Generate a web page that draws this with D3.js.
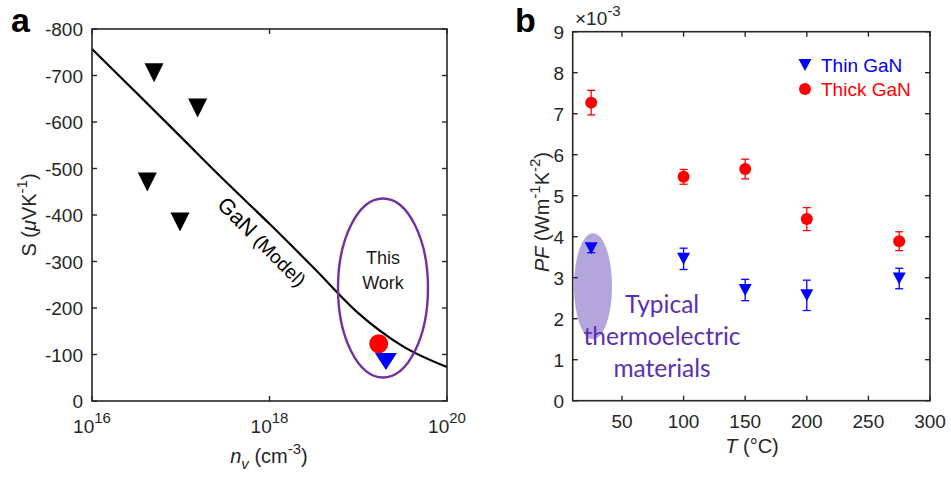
<!DOCTYPE html>
<html>
<head>
<meta charset="utf-8">
<script src="https://cdn.jsdelivr.net/npm/d3@7"></script>
<style>
  body { margin: 0; background: #fff; }
  text { font-family: "Liberation Sans", Arial, sans-serif; fill: #262626; }
</style>
</head>
<body>
<div id="chart"></div>
<script>
// panel a: Seebeck vs carrier density
var modelN = [1e16, 3.16e16, 1e17, 3.16e17, 1e18, 3.16e18, 1e19, 3.16e19, 1e20];
var modelS = [-757, -663, -568, -473, -381, -286, -189, -118, -73];
var litN = [5.0e16, 1.55e17, 4.2e16, 9.8e16];
var litS = [-706, -630, -471, -385];
var thickN = [1.7e19], thickS = [-123];
var thinN = [2.05e19], thinS = [-85];
var aXTicks = [1e16, 1e18, 1e20];
var aXExp = ["16", "18", "20"];
var aYTicks = [-800, -700, -600, -500, -400, -300, -200, -100, 0];

// panel b: power factor vs temperature (x10^-3)
var tempC = [25, 100, 150, 200, 275];
var thinPF = [3.72, 3.46, 2.70, 2.57, 2.98];
var thinErr = [0.11, 0.26, 0.26, 0.37, 0.25];
var thickPF = [7.27, 5.46, 5.65, 4.43, 3.89];
var thickErr = [0.30, 0.18, 0.24, 0.28, 0.23];
var bXTicks = [50, 100, 150, 200, 250, 300];
var bYTicks = [0, 1, 2, 3, 4, 5, 6, 7, 8, 9];

var svg = d3.select("#chart").append("svg")
  .attr("width", 951).attr("height", 480);

var axisColor = "#262626";
var tickFont = "19px", labFont = "20px", supFont = "15px";

function tri(w, h) {
  // downward triangle centred on 0,0
  return "M" + (-w/2) + "," + (-h/2) + "L" + (w/2) + "," + (-h/2) + "L0," + (h/2) + "Z";
}

function box(x0, x1, y0, y1) {
  svg.append("rect")
    .attr("x", x0).attr("y", y0)
    .attr("width", x1 - x0).attr("height", y1 - y0)
    .attr("fill", "none").attr("stroke", axisColor).attr("stroke-width", 1.6);
}

// ---------- panel a ----------
var xa = d3.scaleLog().domain([1e16, 1e20]).range([92, 447]);
var ya = d3.scaleLinear().domain([-800, 0]).range([29, 401]);

var line = d3.line()
  .x(function(d, i) { return xa(modelN[i]); })
  .y(function(d) { return ya(d); })
  .curve(d3.curveMonotoneX);

svg.append("path")
  .attr("d", line(modelS))
  .attr("fill", "none").attr("stroke", "#000").attr("stroke-width", 2.2);

svg.selectAll(".lit").data(litS).enter().append("path")
  .attr("transform", function(d, i) { return "translate(" + xa(litN[i]) + "," + ya(d) + ")"; })
  .attr("d", tri(19, 19))
  .attr("fill", "#000");

// this work ellipse
svg.append("ellipse")
  .attr("cx", xa(1.9e19)).attr("cy", ya(-243))
  .attr("rx", 45).attr("ry", 89.5)
  .attr("fill", "none").attr("stroke", "#7030a0").attr("stroke-width", 2.4);

svg.append("circle")
  .attr("cx", xa(thickN[0])).attr("cy", ya(thickS[0]))
  .attr("r", 9.5).attr("fill", "#ff0000");
svg.append("path")
  .attr("transform", "translate(" + xa(thinN[0]) + "," + ya(thinS[0]) + ")")
  .attr("d", tri(22, 17))
  .attr("fill", "#0000ff");

svg.append("text").attr("x", 383).attr("y", 264).attr("text-anchor", "middle")
  .style("font-size", "18px").style("fill", "#1a1a1a").text("This");
svg.append("text").attr("x", 383).attr("y", 289).attr("text-anchor", "middle")
  .style("font-size", "18px").style("fill", "#1a1a1a").text("Work");

var gm = svg.append("text")
  .attr("transform", "translate(257,247) rotate(45)")
  .attr("text-anchor", "middle")
  .style("font-size", "22px").style("fill", "#000");
gm.append("tspan").text("GaN ");
gm.append("tspan").style("font-size", "19px").text("(Model)");

box(92, 447, 29, 401);

// ticks a
aYTicks.forEach(function(t) {
  var y = ya(t);
  svg.append("line").attr("x1", 92).attr("x2", 97).attr("y1", y).attr("y2", y).attr("stroke", axisColor).attr("stroke-width", 1.4);
  svg.append("line").attr("x1", 447).attr("x2", 442).attr("y1", y).attr("y2", y).attr("stroke", axisColor).attr("stroke-width", 1.4);
  svg.append("text").attr("x", 83).attr("y", y + 7).attr("text-anchor", "end")
    .style("font-size", tickFont).text(t);
});
aXTicks.forEach(function(t, i) {
  var x = xa(t);
  svg.append("line").attr("x1", x).attr("x2", x).attr("y1", 401).attr("y2", 396).attr("stroke", axisColor).attr("stroke-width", 1.4);
  svg.append("line").attr("x1", x).attr("x2", x).attr("y1", 29).attr("y2", 34).attr("stroke", axisColor).attr("stroke-width", 1.4);
  var tx = svg.append("text").attr("x", x).attr("y", 433).attr("text-anchor", "middle")
    .style("font-size", tickFont);
  tx.append("tspan").text("10");
  tx.append("tspan").attr("dy", -10).style("font-size", supFont).text(aXExp[i]);
});

var xl = svg.append("text").attr("x", 269).attr("y", 463).attr("text-anchor", "middle").style("font-size", labFont);
xl.append("tspan").style("font-style", "italic").text("n");
xl.append("tspan").attr("dy", 6).style("font-style", "italic").style("font-size", supFont).text("v");
xl.append("tspan").attr("dy", -6).text(" (cm");
xl.append("tspan").attr("dy", -9).style("font-size", supFont).text("-3");
xl.append("tspan").attr("dy", 9).text(")");

var yl = svg.append("text").attr("transform", "translate(36,215) rotate(-90)")
  .attr("text-anchor", "middle").style("font-size", labFont);
yl.append("tspan").text("S (");
yl.append("tspan").style("font-style", "italic").text("\u03bc");
yl.append("tspan").text("VK");
yl.append("tspan").attr("dy", -9).style("font-size", supFont).text("-1");
yl.append("tspan").attr("dy", 9).text(")");

svg.append("text").attr("x", 11).attr("y", 32).style("font-size", "34px")
  .style("font-weight", "bold").style("fill", "#000").text("a");

// ---------- panel b ----------
var xb = d3.scaleLinear().domain([10, 300]).range([572.7, 930]);
var yb = d3.scaleLinear().domain([0, 9]).range([400.7, 31.7]);

svg.append("ellipse")
  .attr("cx", xb(26.5)).attr("cy", yb(2.79))
  .attr("rx", 19).attr("ry", 53)
  .attr("fill", "#b4a5dc");

function errorBars(vals, errs, color) {
  var g = svg.append("g").attr("stroke", color).attr("stroke-width", 1.3);
  vals.forEach(function(v, i) {
    var x = xb(tempC[i]);
    g.append("line").attr("x1", x).attr("x2", x).attr("y1", yb(v - errs[i])).attr("y2", yb(v + errs[i]));
    g.append("line").attr("x1", x - 4).attr("x2", x + 4).attr("y1", yb(v - errs[i])).attr("y2", yb(v - errs[i]));
    g.append("line").attr("x1", x - 4).attr("x2", x + 4).attr("y1", yb(v + errs[i])).attr("y2", yb(v + errs[i]));
  });
}
errorBars(thickPF, thickErr, "#ff0000");
errorBars(thinPF, thinErr, "#0000ff");

svg.selectAll(".thick").data(thickPF).enter().append("circle")
  .attr("cx", function(d, i) { return xb(tempC[i]); })
  .attr("cy", function(d) { return yb(d); })
  .attr("r", 6).attr("fill", "#ff0000");

svg.selectAll(".thin").data(thinPF).enter().append("path")
  .attr("transform", function(d, i) { return "translate(" + xb(tempC[i]) + "," + yb(d) + ")"; })
  .attr("d", tri(13, 12))
  .attr("fill", "#0000ff");

box(572.7, 930, 31.7, 400.7);

bYTicks.forEach(function(t) {
  var y = yb(t);
  svg.append("line").attr("x1", 572.7).attr("x2", 577.7).attr("y1", y).attr("y2", y).attr("stroke", axisColor).attr("stroke-width", 1.4);
  svg.append("line").attr("x1", 930).attr("x2", 925).attr("y1", y).attr("y2", y).attr("stroke", axisColor).attr("stroke-width", 1.4);
  svg.append("text").attr("x", 564).attr("y", y + 7).attr("text-anchor", "end")
    .style("font-size", tickFont).text(t);
});
bXTicks.forEach(function(t) {
  var x = xb(t);
  svg.append("line").attr("x1", x).attr("x2", x).attr("y1", 400.7).attr("y2", 395.7).attr("stroke", axisColor).attr("stroke-width", 1.4);
  svg.append("line").attr("x1", x).attr("x2", x).attr("y1", 31.7).attr("y2", 36.7).attr("stroke", axisColor).attr("stroke-width", 1.4);
  svg.append("text").attr("x", x).attr("y", 428).attr("text-anchor", "middle")
    .style("font-size", tickFont).text(t);
});

var mult = svg.append("text").attr("x", 575).attr("y", 25).style("font-size", "19px");
mult.append("tspan").text("\u00d710");
mult.append("tspan").attr("dy", -9).style("font-size", "15px").text("-3");

var xlb = svg.append("text").attr("x", 752).attr("y", 453).attr("text-anchor", "middle").style("font-size", labFont);
xlb.append("tspan").style("font-style", "italic").text("T");
xlb.append("tspan").text(" (\u00b0C)");

var ylb = svg.append("text").attr("transform", "translate(549,212) rotate(-90)")
  .attr("text-anchor", "middle").style("font-size", labFont);
ylb.append("tspan").style("font-style", "italic").text("PF");
ylb.append("tspan").text(" (Wm");
ylb.append("tspan").attr("dy", -9).style("font-size", supFont).text("-1");
ylb.append("tspan").attr("dy", 9).text("K");
ylb.append("tspan").attr("dy", -9).style("font-size", supFont).text("-2");
ylb.append("tspan").attr("dy", 9).text(")");

// legend
svg.append("path").attr("transform", "translate(805,65)").attr("d", tri(13, 12)).attr("fill", "#0000ff");
svg.append("text").attr("x", 821).attr("y", 72).style("font-size", tickFont).style("fill", "#0000ff").text("Thin GaN");
svg.append("circle").attr("cx", 805).attr("cy", 89).attr("r", 6).attr("fill", "#ff0000");
svg.append("text").attr("x", 821).attr("y", 96).style("font-size", tickFont).style("fill", "#ff0000").text("Thick GaN");

var typ = ["Typical", "thermoelectric", "materials"];
typ.forEach(function(s, i) {
  svg.append("text").attr("x", 662).attr("y", 313 + i * 32).attr("text-anchor", "middle")
    .style("font-family", "Lato, 'Open Sans', sans-serif").style("font-size", "24.5px")
    .style("fill", "#5b2fb5").text(s);
});

svg.append("text").attr("x", 515).attr("y", 32).style("font-size", "34px")
  .style("font-weight", "bold").style("fill", "#000").text("b");
</script>
</body>
</html>
